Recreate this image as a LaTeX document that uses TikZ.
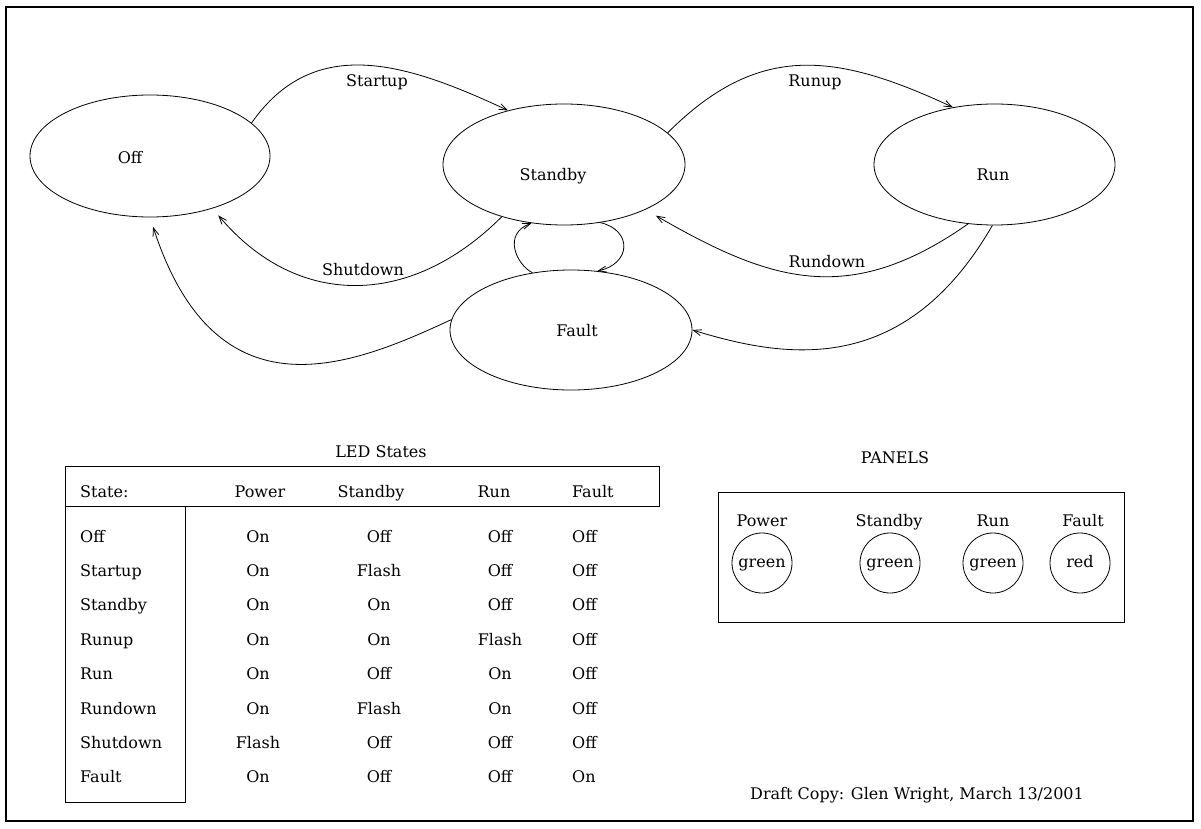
\documentclass[tikz,border=0pt]{standalone}
\usepackage{fontspec}
\setmainfont{DejaVu Serif}
\usetikzlibrary{arrows.meta,shapes.geometric,calc}
\begin{document}
\begin{tikzpicture}[x=1pt,y=1pt,
  font=\fontsize{16}{19}\selectfont,
  state/.style={draw,ellipse,line width=0.8pt,inner sep=0pt},
  edge/.style={draw,line width=0.8pt,-{Straight Barb[length=8pt,width=6pt]}},
  txt/.style={inner sep=0pt},
  led/.style={draw,circle,line width=0.8pt,minimum size=60pt,inner sep=0pt,text height=8pt,text depth=0pt},
  frame/.style={draw,line width=0.8pt}]
\useasboundingbox (0,0) rectangle (1201,-829);
\draw[line width=2.5pt] (6,-7) rectangle (1193,-821);

% states
\node[state,minimum width=240pt,minimum height=122pt,
  label={[txt,xshift=-20pt,yshift=-2pt]center:Off}] (off) at (150,-156) {};
\node[state,minimum width=242pt,minimum height=121pt,
  label={[txt,xshift=-11pt,yshift=-11.5pt]center:Standby}] (standby) at (564,-164.5) {};
\node[state,minimum width=241pt,minimum height=121pt,
  label={[txt,xshift=-1.5pt,yshift=-10.5pt]center:Run}] (run) at (994.5,-164.5) {};
\node[state,minimum width=242pt,minimum height=120pt,
  label={[txt,xshift=6pt,yshift=-1pt]center:Fault}] (fault) at (571,-330) {};

% transitions
\draw[edge] (off.18) to[out=55,in=155,looseness=1.1] (standby.136);
\node[txt] (lstartup) at (377,-82) {Startup};
\draw[edge] (standby.17) to[out=45,in=155,looseness=1.15] (run.126);
\node[txt] (lrunup) at (815,-82) {Runup};
\draw[edge,shorten >=12pt] (run.-114) to[out=215,in=-30,looseness=1.15] (standby.-29);
\node[txt] (lrundown) at (827,-262) {Rundown};
\draw[edge,shorten >=9pt] (standby.-140) to[out=225,in=-50,looseness=1.15] (off.-40);
\node[txt] (lshutdown) at (363,-270) {Shutdown};
\draw[edge,shorten >=10pt] (fault.175) to[out=205,in=-72,out distance=110pt,in distance=215pt] (off.-90);
\draw[edge] (run.-92) to[out=240,in=-17,out distance=178pt,in distance=95pt] (fault.0);
\draw[edge] (standby.-58) to[out=-13,in=12,out distance=33pt,in distance=35pt] (fault.66);
\draw[edge] (fault.124) to[out=153,in=200,out distance=18pt,in distance=31pt] (standby.-119);

% LED table
\node[txt] (ledtitle) at (381,-452) {LED States};
\draw[frame] (65,-466) rectangle (659,-506);
\draw[frame] (65,-506) rectangle (185,-802);
\node[txt,anchor=base west] (hstate) at (80,-497) {State:};
\node[txt,anchor=base] (hpower) at (260,-497) {Power};
\node[txt,anchor=base] (hstandby) at (371,-497) {Standby};
\node[txt,anchor=base] (hrun) at (494,-497) {Run};
\node[txt,anchor=base west] (hfault) at (572,-497) {Fault};
\foreach \nm/\p/\s/\r/\f [count=\i from 0] in
  {Off/On/Off/Off/Off, Startup/On/Flash/Off/Off, Standby/On/On/Off/Off,
   Runup/On/On/Flash/Off, Run/On/Off/On/Off, Rundown/On/Flash/On/Off,
   Shutdown/Flash/Off/Off/Off, Fault/On/Off/Off/On}{
  \pgfmathsetmacro\yy{-(542+34.4*\i)}
  \node[txt,anchor=base west] (rl\i) at (80,\yy) {\nm};
  \node[txt,anchor=base] (rp\i) at (258,\yy) {\p};
  \node[txt,anchor=base] (rs\i) at (379,\yy) {\s};
  \node[txt,anchor=base] (rr\i) at (500,\yy) {\r};
  \node[txt,anchor=base west] (rf\i) at (572,\yy) {\f};
}

% panels
\node[txt] (paneltitle) at (895,-458) {PANELS};
\draw[frame] (718,-492) rectangle (1124,-622);
\foreach \x/\lx/\lab/\col [count=\i] in
  {762/762/Power/green, 890/889/Standby/green, 993/993/Run/green, 1080/1083/Fault/red}{
  \node[led] (led\i) at (\x,-563) {\col};
  \node[txt,anchor=base] (ledlab\i) at (\lx,-526) {\lab};
}

\node[txt] (draft) at (917,-795) {Draft Copy: Glen Wright, March 13/2001};
\end{tikzpicture}
\end{document}
